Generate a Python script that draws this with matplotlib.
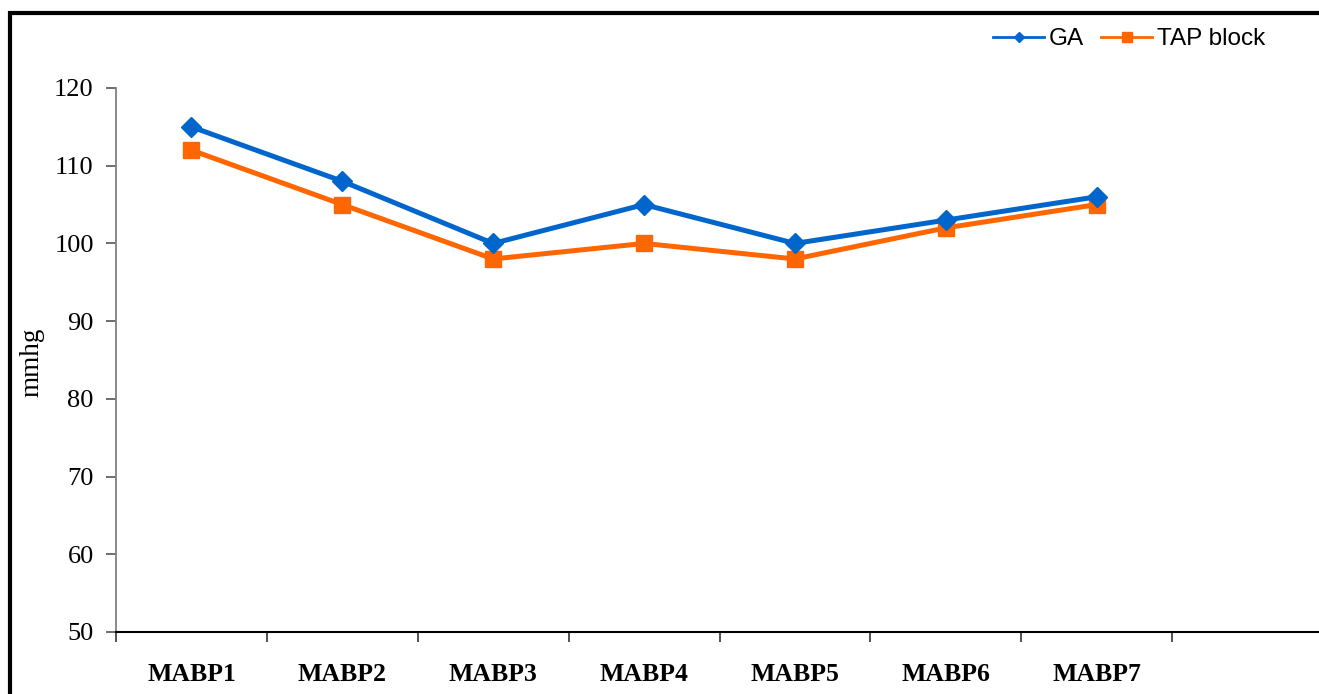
import matplotlib.pyplot as plt
from matplotlib.lines import Line2D
from matplotlib.patches import Rectangle
import numpy as np

categories = ["MABP1", "MABP2", "MABP3", "MABP4", "MABP5", "MABP6", "MABP7"]
ga = [115, 108, 100, 105, 100, 103, 106]
tap = [112, 105, 98, 100, 98, 102, 105]

blue = "#0066CC"
orange = "#FF6600"
W, H = 1319, 694

fig = plt.figure(figsize=(W / 100, H / 100), dpi=100)
ax = fig.add_axes([116 / W, 62 / H, (1323 - 116) / W, (632 - 88) / H])

x = np.arange(len(categories))
ax.plot(x, ga, color=blue, lw=3.6, marker="D", ms=10, zorder=3)
ax.plot(x, tap, color=orange, lw=3.6, marker="s", ms=11, zorder=2)

ax.set_xlim(-0.5, 7.5)
ax.set_ylim(50, 120)
ax.set_yticks(range(50, 121, 10))
ax.set_xticks(x)
ax.set_xticklabels(categories, fontfamily="Liberation Serif", fontweight="bold", fontsize=18.5)
ax.set_xticks(np.arange(-0.5, 8, 1), minor=True)
ax.tick_params(axis="x", which="major", length=0, pad=22)
ax.tick_params(axis="x", which="minor", length=7, width=1.2, direction="out", color="#333333")
ax.tick_params(axis="y", length=7, width=1.2, color="#555555", pad=9)
for lab in ax.get_yticklabels():
    lab.set_fontfamily("Liberation Serif")
    lab.set_fontsize(19)

for s in ["top", "right"]:
    ax.spines[s].set_visible(False)
ax.spines["left"].set_color("#808080")
ax.spines["left"].set_linewidth(1.3)
ax.spines["bottom"].set_color("black")
ax.spines["bottom"].set_linewidth(1.5)

fig.text(32 / W, 1 - 362 / H, "mmhg", rotation=90, ha="center", va="center",
         fontfamily="Liberation Serif", fontsize=19.5)

handles = [
    Line2D([], [], color=blue, lw=2, marker="D", ms=5),
    Line2D([], [], color=orange, lw=2, marker="s", ms=7),
]
fig.legend(handles, ["GA", "TAP block"], loc="center left", bbox_to_anchor=(981 / W, 1 - 39 / H),
           ncol=2, frameon=False, prop={"family": "Liberation Sans", "size": 17.5},
           handlelength=2.1, handletextpad=0.2, columnspacing=0.7, borderpad=0)

# outer frame of the original figure
fig.patches.append(Rectangle((10 / W, -0.2), 1.2, 1.2 - 13 / H, transform=fig.transFigure,
                             fill=False, ec="black", lw=3))

fig.savefig("out.png", dpi=100)
